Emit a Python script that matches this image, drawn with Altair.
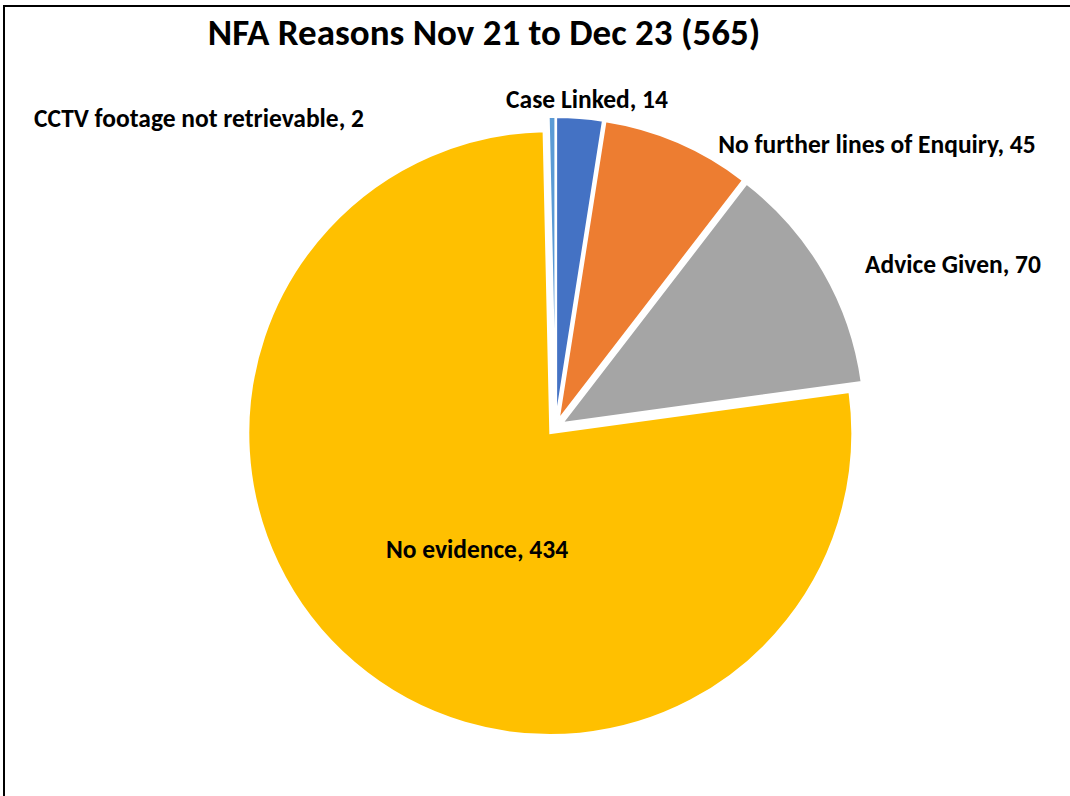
import altair as alt
import pandas as pd

# ---- data ----
categories = ["Case Linked", "No further lines of Enquiry", "Advice Given", "No evidence", "CCTV footage not retrievable"]
values = [14, 45, 70, 434, 2]
colors = ["#4472C4", "#ED7D31", "#A5A5A5", "#FFC000", "#5B9BD5"]
title_text = "NFA Reasons Nov 21 to Dec 23 (565)"

# ---- layout (pixel placement of the pie and its labels) ----
W, H = 1070, 796
CX, CY = 555.5, 427.0      # pie centre
R = 302                     # pie radius
EXPLODE = 8                 # slice explosion distance
label_pos = {               # (centre x, baseline y)
    "Case Linked": (587, 108),
    "No further lines of Enquiry": (877, 153),
    "Advice Given": (953, 273),
    "No evidence": (477, 558),
    "CCTV footage not retrievable": (199, 127),
}
FONT = "Calibri, Carlito, Lato, sans-serif"

df = pd.DataFrame({"label": categories, "value": values, "order": range(len(values))})
df["text"] = [f"{c}, {v}" for c, v in zip(categories, values)]
df["lx"] = [label_pos[c][0] for c in categories]
df["ly"] = [label_pos[c][1] for c in categories]

base = alt.Chart(df)

arcs = base.transform_window(
    cum="sum(value)", sort=[alt.SortField("order")]
).transform_joinaggregate(
    total="sum(value)"
).transform_calculate(
    t1="datum.cum / datum.total * 2 * PI",
    t0="(datum.cum - datum.value) / datum.total * 2 * PI",
).transform_calculate(
    mid="(datum.t0 + datum.t1) / 2",
).transform_calculate(
    cx=f"{CX} + {EXPLODE} * sin(datum.mid)",
    cy=f"{CY} - {EXPLODE} * cos(datum.mid)",
).mark_arc(radius=R, stroke="white", strokeWidth=2).encode(
    x=alt.X("cx:Q", scale=None, axis=None),
    y=alt.Y("cy:Q", scale=None, axis=None),
    theta=alt.Theta("t0:Q", scale=None, stack=None),
    theta2=alt.Theta2("t1:Q"),
    color=alt.Color("label:N", scale=alt.Scale(domain=categories, range=colors), legend=None),
)

labels = base.mark_text(
    font=FONT, fontSize=25.5, fontWeight="bold", color="black", align="center", baseline="alphabetic"
).encode(
    x=alt.X("lx:Q", scale=None, axis=None),
    y=alt.Y("ly:Q", scale=None, axis=None),
    text="text:N",
)

title = alt.Chart(pd.DataFrame({"t": [title_text]})).mark_text(
    font=FONT, fontSize=37, fontWeight="bold", color="black", align="center", baseline="alphabetic"
).encode(x=alt.value(484), y=alt.value(45), text="t:N")

frame = alt.Chart(pd.DataFrame({"a": [0]})).mark_rect(
    fill="transparent", stroke="black", strokeWidth=2
).encode(x=alt.value(4), x2=alt.value(W + 10), y=alt.value(6), y2=alt.value(H + 10))

chart = alt.layer(frame, arcs, labels, title).properties(
    width=W, height=H, padding=0, autosize=alt.AutoSizeParams(type="none"),
    background="white",
).configure_view(stroke=None)

chart.save("out.html", embed_options={"renderer": "svg", "actions": False})
